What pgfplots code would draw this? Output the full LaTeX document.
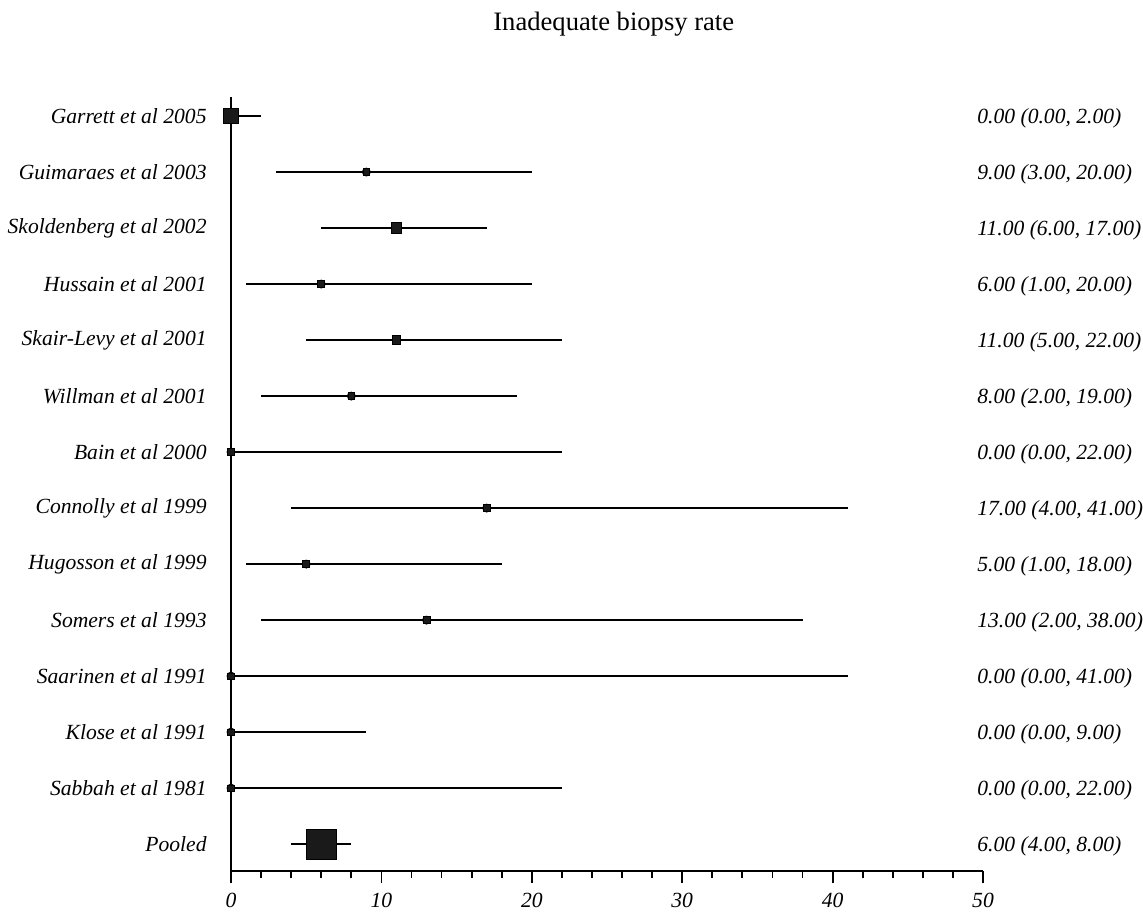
\documentclass[border=0pt]{standalone}
\usepackage{fontspec}
\setmainfont{Liberation Serif}
\usepackage{pgfplots}
\usepackage{pgfplotstable}
\pgfplotsset{compat=1.18}
\pgfplotstableread{
y x lo hi s
14 0 0 2 3.6
13 9 3 20 1.7
12 11 6 17 2.6
11 6 1 20 1.7
10 11 5 22 2.1
9 8 2 19 1.7
8 0 0 22 1.6
7 17 4 41 1.7
6 5 1 18 1.7
5 13 2 38 1.7
4 0 0 41 1.6
3 0 0 9 1.6
2 0 0 22 1.6
1 6 4 8 7.6
}\data
\definecolor{ink}{HTML}{1A1A1A}
\begin{document}
\begin{tikzpicture}
\useasboundingbox (-115.5pt,-20.5pt) rectangle (456pt,435.5pt);
\begin{axis}[
  scale only axis, width=376pt, height=387pt,
  xmin=0, xmax=50, ymin=0.52, ymax=14.34,
  axis x line=bottom, axis y line=left,
  axis line style={-, line width=0.9pt, black},
  xtick={0,10,...,50}, minor xtick={2,4,...,48},
  tick align=outside,
  major tick length=6pt, minor tick length=3.5pt,
  every tick/.style={black, line width=0.9pt},
  ytick={1,...,14},
  yticklabels={Pooled, Sabbah et al 1981, Klose et al 1991, Saarinen et al 1991, Somers et al 1993, Hugosson et al 1999, Connolly et al 1999, Bain et al 2000, Willman et al 2001, Skair-Levy et al 2001, Hussain et al 2001, Skoldenberg et al 2002, Guimaraes et al 2003, Garrett et al 2005},
  ytick style={draw=none},
  yticklabel style={anchor=east, inner sep=0pt, xshift=-6pt, font=\fontsize{10.8}{13}\selectfont\itshape},
  xticklabel style={yshift=-1.5pt, font=\fontsize{10.8}{13}\selectfont\itshape},
  /pgf/number format/assume math mode=true,
  clip=false,
  title={Inadequate biopsy rate},
  title style={at={(axis description cs:0.509,1)}, anchor=center, yshift=30.5pt, font=\fontsize{13.3}{15}\selectfont},
]
\addplot[only marks, mark=none, error bars/.cd, x dir=both, x explicit, error mark=none, error bar style={line width=0.9pt, black}]
  table[x=x, y=y, x error plus expr=\thisrow{hi}-\thisrow{x}, x error minus expr=\thisrow{x}-\thisrow{lo}] {\data};
\addplot[scatter, only marks, mark=square*,
  scatter/use mapped color={draw=none, fill=ink},
  mark options={draw=none},
  visualization depends on={\thisrow{s} \as \msize},
  scatter/@pre marker code/.append style={/tikz/mark size=\msize pt}]
  table[x=x, y=y] {\data};
\begin{scope}[every node/.style={anchor=west, inner sep=0pt, yshift=-1pt, font=\fontsize{10.8}{13}\selectfont\itshape}]
\node at (axis cs:49.6,14) {0.00 (0.00, 2.00)};
\node at (axis cs:49.6,13) {9.00 (3.00, 20.00)};
\node at (axis cs:49.6,12) {11.00 (6.00, 17.00)};
\node at (axis cs:49.6,11) {6.00 (1.00, 20.00)};
\node at (axis cs:49.6,10) {11.00 (5.00, 22.00)};
\node at (axis cs:49.6,9) {8.00 (2.00, 19.00)};
\node at (axis cs:49.6,8) {0.00 (0.00, 22.00)};
\node at (axis cs:49.6,7) {17.00 (4.00, 41.00)};
\node at (axis cs:49.6,6) {5.00 (1.00, 18.00)};
\node at (axis cs:49.6,5) {13.00 (2.00, 38.00)};
\node at (axis cs:49.6,4) {0.00 (0.00, 41.00)};
\node at (axis cs:49.6,3) {0.00 (0.00, 9.00)};
\node at (axis cs:49.6,2) {0.00 (0.00, 22.00)};
\node at (axis cs:49.6,1) {6.00 (4.00, 8.00)};
\end{scope}
\end{axis}
\end{tikzpicture}
\end{document}
